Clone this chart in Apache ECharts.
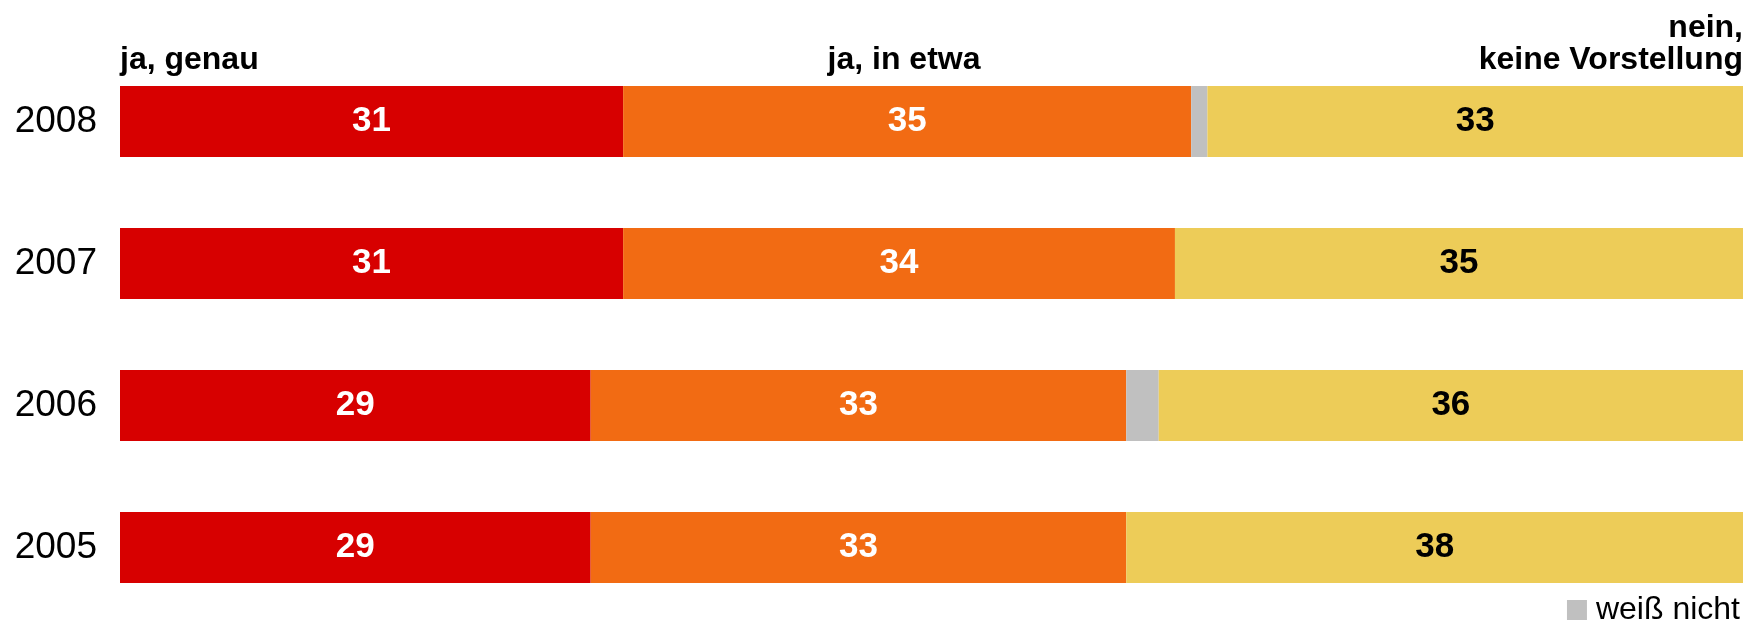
<!DOCTYPE html>
<html>
<head>
<meta charset="utf-8">
<script src="https://cdn.jsdelivr.net/npm/echarts@6/dist/echarts.min.js"></script>
<style>
  html, body { margin: 0; padding: 0; background: #fff; }
  #chart { width: 1746px; height: 626px; }
</style>
</head>
<body>
<div id="chart"></div>
<script>
// years, top to bottom
var years = ['2008', '2007', '2006', '2005'];

var jaGenau = [31, 31, 29, 29];
var jaInEtwa = [35, 34, 33, 33];
var weissNicht = [1, 0, 2, 0];
var neinKeine = [33, 35, 36, 38];

var FONT = '"Liberation Sans", Arial, Helvetica, sans-serif';

var chart = echarts.init(document.getElementById('chart'));

function barLabel(color) {
    return {
        show: true,
        position: 'inside',
        color: color,
        fontFamily: FONT,
        fontWeight: 'bold',
        fontSize: 35,
        formatter: function (p) { return p.value > 0 ? p.value : ''; }
    };
}

function header(text, x, y, align) {
    return {
        type: 'text',
        x: x,
        y: y,
        style: {
            text: text,
            fill: '#000',
            font: 'bold 32px ' + FONT,
            align: align,
            verticalAlign: 'top',
            lineHeight: 32
        }
    };
}

var option = {
    animation: false,
    backgroundColor: '#ffffff',
    grid: {
        left: 120,
        right: 3,
        top: 50.5,
        bottom: 7.5,
        containLabel: false
    },
    xAxis: {
        type: 'value',
        min: 0,
        max: 100,
        show: false
    },
    yAxis: {
        type: 'category',
        data: years,
        inverse: true,
        axisLine: { show: false },
        axisTick: { show: false },
        axisLabel: {
            margin: 23,
            color: '#000',
            fontFamily: FONT,
            fontSize: 37
        }
    },
    legend: {
        data: ['weiß nicht'],
        right: 6,
        bottom: 0,
        padding: 0,
        itemWidth: 20,
        itemHeight: 20,
        itemGap: 10,
        icon: 'rect',
        textStyle: {
            color: '#000',
            fontFamily: FONT,
            fontSize: 32,
            padding: [0, 0, 0, 4]
        }
    },
    graphic: [
        header('ja, genau', 120, 44, 'left'),
        header('ja, in etwa', 904, 44, 'center'),
        header('nein,\nkeine Vorstellung', 1743, 12, 'right')
    ],
    series: [
        {
            name: 'ja, genau',
            type: 'bar',
            stack: 'all',
            barWidth: 71,
            itemStyle: { color: '#D70000' },
            label: barLabel('#fff'),
            data: jaGenau
        },
        {
            name: 'ja, in etwa',
            type: 'bar',
            stack: 'all',
            barWidth: 71,
            itemStyle: { color: '#F26B13' },
            label: barLabel('#fff'),
            data: jaInEtwa
        },
        {
            name: 'weiß nicht',
            type: 'bar',
            stack: 'all',
            barWidth: 71,
            itemStyle: { color: '#C0C0C0' },
            data: weissNicht
        },
        {
            name: 'nein, keine Vorstellung',
            type: 'bar',
            stack: 'all',
            barWidth: 71,
            itemStyle: { color: '#EDCC58' },
            label: barLabel('#000'),
            data: neinKeine
        }
    ]
};

chart.setOption(option);
</script>
</body>
</html>
